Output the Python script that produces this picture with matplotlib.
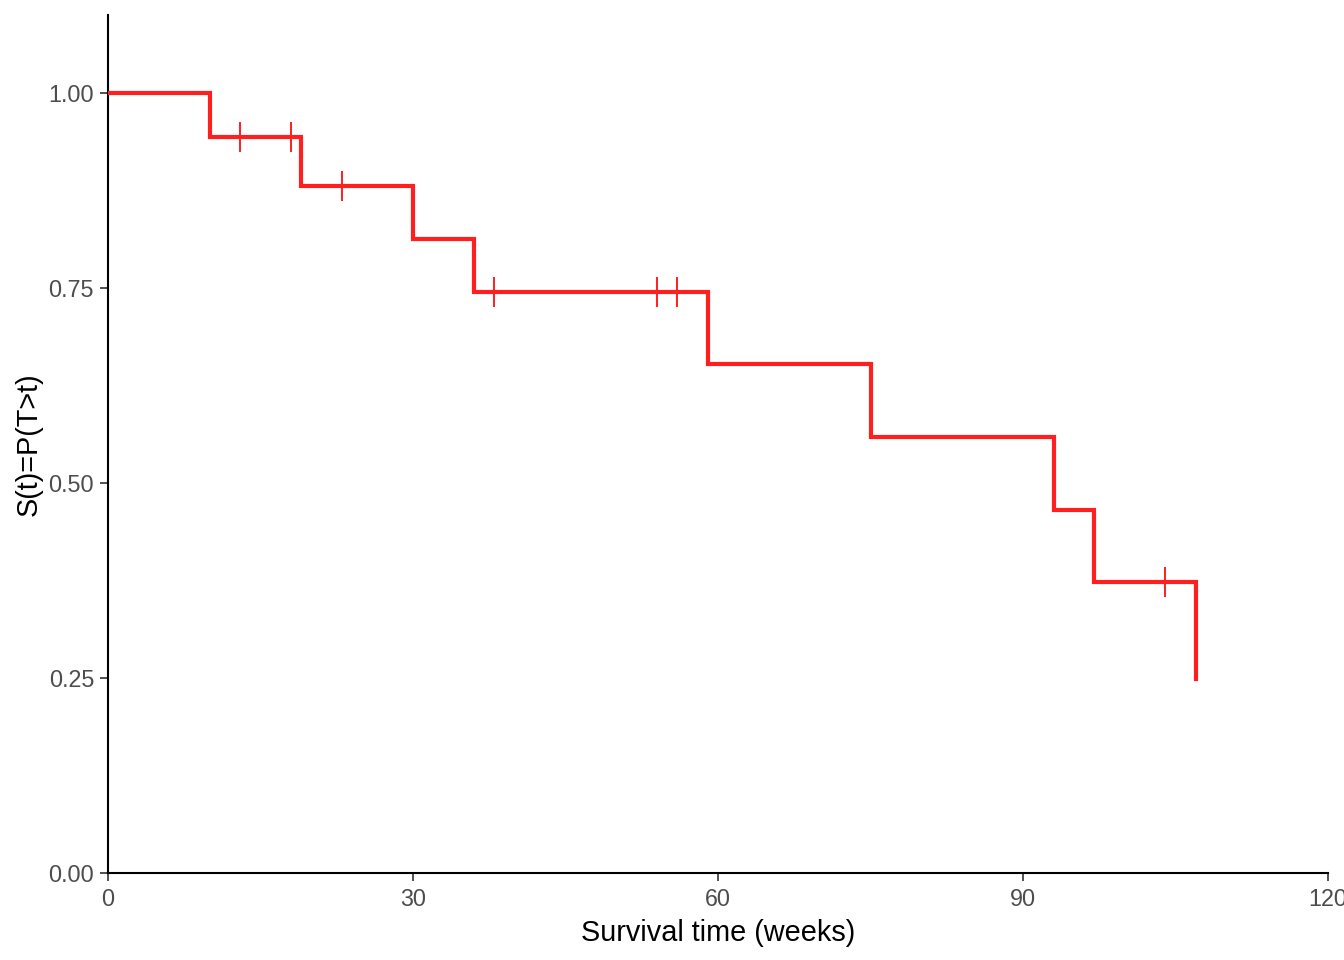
import matplotlib
matplotlib.use("Agg")
import matplotlib.pyplot as plt

plt.rcParams['font.family'] = ['Liberation Sans', 'DejaVu Sans']

# Kaplan-Meier step values
event_times = [0, 10, 19, 30, 36, 59, 75, 93, 97, 107]
surv_values = [1.000, 0.944, 0.881, 0.813, 0.745, 0.652, 0.559, 0.466, 0.373, 0.249]
end_time = 107

# censoring marks
censor_times = [13, 18, 23, 38, 54, 56, 104]
censor_surv = [0.944, 0.944, 0.881, 0.745, 0.745, 0.745, 0.373]

x_ticks = [0, 30, 60, 90, 120]
y_ticks = [0.00, 0.25, 0.50, 0.75, 1.00]
y_tick_labels = ["0.00", "0.25", "0.50", "0.75", "1.00"]

color = '#FF1F1F'

fig = plt.figure(figsize=(13.44, 9.6), dpi=100)
ax = fig.add_axes([108/1344, 87/960, 1220/1344, 858/960])

xs = event_times + [end_time]
ys = surv_values + [surv_values[-1]]
ax.step(xs, ys, where='post', color=color, linewidth=3.0, solid_joinstyle='miter', zorder=3)
ax.plot(censor_times, censor_surv, linestyle='none', marker='|', markersize=22,
        markeredgewidth=1.4, color=color, zorder=4)

ax.set_xlim(0, 120)
ax.set_ylim(0, 1.1)
ax.set_xticks(x_ticks)
ax.set_xticklabels([str(t) for t in x_ticks])
ax.set_yticks(y_ticks)
ax.set_yticklabels(y_tick_labels)

for s in ['top', 'right']:
    ax.spines[s].set_visible(False)
for s in ['left', 'bottom']:
    ax.spines[s].set_color('black')
    ax.spines[s].set_linewidth(1.5)

ax.tick_params(axis='both', colors='#333333', length=6, width=1.2, labelsize=16.8,
               labelcolor='#4D4D4D')
ax.tick_params(axis='x', pad=5)
ax.tick_params(axis='y', pad=4)
ax.set_xlabel('Survival time (weeks)', fontsize=20.8, color='black', labelpad=5.5)
ax.set_ylabel('S(t)=P(T>t)', fontsize=20.8, color='black', labelpad=4)
for lbl in ax.get_xticklabels():
    lbl.set_clip_on(False)

fig.savefig('out.png', dpi=100)
